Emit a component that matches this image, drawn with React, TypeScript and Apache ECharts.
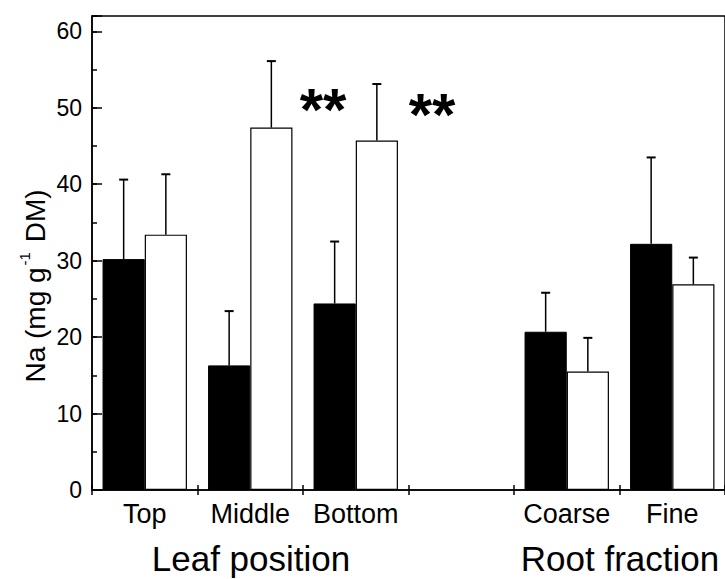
import React, { useEffect, useRef } from "react";
import * as echarts from "echarts";

const categories = ["Top", "Middle", "Bottom", "", "Coarse", "Fine"];
const blackMeans: (number | null)[] = [30.2, 16.3, 24.4, null, 20.7, 32.2];
const blackErrors: (number | null)[] = [10.4, 7.1, 8.1, null, 5.1, 11.3];
const whiteMeans: (number | null)[] = [33.4, 47.4, 45.7, null, 15.5, 26.9];
const whiteErrors: (number | null)[] = [7.9, 8.7, 7.4, null, 4.4, 3.5];
const yMin = 0;
const yMax = 62;
const yInterval = 10;
const groupTitles = ["Leaf position", "Root fraction"];
const significanceMarks = ["**", "**"];

const FONT = "Liberation Sans, Arial, Helvetica, sans-serif";

function errorData(means: (number | null)[], errs: (number | null)[]) {
  const out: number[][] = [];
  means.forEach((m, i) => {
    const e = errs[i];
    if (m != null && e != null) out.push([i, m, m + e]);
  });
  return out;
}

function makeErrorRenderer(side: number) {
  return (params: any, api: any) => {
    const idx = api.value(0);
    const base = api.coord([idx, api.value(1)]);
    const top = api.coord([idx, api.value(2)]);
    const band = api.size([1, 0])[0];
    const x = base[0] + side * band * 0.2;
    const cap = 4.5;
    return {
      type: "group",
      children: [
        {
          type: "line",
          shape: { x1: x, y1: base[1], x2: x, y2: top[1] },
          style: { stroke: "#000", lineWidth: 1.5 },
        },
        {
          type: "line",
          shape: { x1: x - cap, y1: top[1], x2: x + cap, y2: top[1] },
          style: { stroke: "#000", lineWidth: 2 },
        },
      ],
    };
  };
}

export default function App() {
  const ref = useRef<HTMLDivElement>(null);

  useEffect(() => {
    if (!ref.current) return;
    const chart = echarts.init(ref.current, undefined, { renderer: "svg" });
    const option: any = {
      animation: false,
      backgroundColor: "#fff",
      textStyle: { fontFamily: FONT },
      grid: {
        left: 92,
        right: -6,
        top: 16,
        bottom: 89,
        show: true,
        borderColor: "#000",
        borderWidth: 1.5,
        containLabel: false,
      },
      xAxis: [
        {
          type: "category",
          data: categories,
          position: "bottom",
          axisLine: { show: true, lineStyle: { color: "#000", width: 1.5 } },
          axisTick: { show: true, inside: true, length: 5, lineStyle: { color: "#000", width: 1.5 } },
          axisLabel: { color: "#000", fontSize: 27, fontFamily: FONT, margin: 10, interval: 0 },
          splitLine: { show: false },
        },
        {
          type: "category",
          data: categories,
          position: "bottom",
          axisLine: { show: false },
          axisTick: { show: true, inside: false, length: 5, lineStyle: { color: "#000", width: 1.5 } },
          axisLabel: { show: false },
          splitLine: { show: false },
        },
      ],
      yAxis: [
        {
          type: "value",
          min: yMin,
          max: yMax,
          interval: yInterval,
          position: "left",
          axisLine: { show: true, lineStyle: { color: "#000", width: 1.5 } },
          axisTick: { show: true, inside: true, length: 10, lineStyle: { color: "#000", width: 1.5 } },
          axisLabel: {
            color: "#000",
            fontSize: 23,
            fontFamily: FONT,
            margin: 10,
            formatter: (v: number) => (v % yInterval === 0 ? String(v) : ""),
          },
          splitLine: { show: false },
        },
        {
          type: "value",
          min: yMin,
          max: yMax,
          interval: yInterval / 2,
          position: "left",
          axisLine: { show: false },
          axisTick: { show: true, inside: true, length: 5, lineStyle: { color: "#000", width: 1.5 } },
          axisLabel: { show: false },
          splitLine: { show: false },
        },
      ],
      series: [
        {
          type: "bar",
          data: blackMeans,
          barGap: "0%",
          barCategoryGap: "20%",
          itemStyle: { color: "#000", borderColor: "#000", borderWidth: 1 },
          z: 2,
        },
        {
          type: "bar",
          data: whiteMeans,
          barGap: "0%",
          barCategoryGap: "20%",
          itemStyle: { color: "#fff", borderColor: "#000", borderWidth: 1.2 },
          z: 2,
        },
        {
          type: "custom",
          data: errorData(blackMeans, blackErrors),
          renderItem: makeErrorRenderer(-1),
          encode: { x: 0, y: [1, 2] },
          z: 3,
        },
        {
          type: "custom",
          data: errorData(whiteMeans, whiteErrors),
          renderItem: makeErrorRenderer(1),
          encode: { x: 0, y: [1, 2] },
          z: 3,
        },
      ],
      graphic: [
        {
          type: "text",
          x: 33,
          y: 286,
          rotation: Math.PI / 2,
          style: {
            text: "{a|Na (mg g}{s|-1}{a| DM)}",
            align: "center",
            verticalAlign: "middle",
            fill: "#000",
            rich: {
              a: { fontSize: 28, fontFamily: FONT, fill: "#000", lineHeight: 32, verticalAlign: "bottom" },
              s: { fontSize: 15, fontFamily: FONT, fill: "#000", lineHeight: 32, verticalAlign: "top", padding: [0, 2, 14, 2] },
            },
          },
        },
        {
          type: "text",
          x: 251,
          y: 558,
          style: { text: groupTitles[0], fontSize: 35, fontFamily: FONT, fill: "#000", align: "center", verticalAlign: "middle" },
        },
        {
          type: "text",
          x: 620,
          y: 558,
          style: { text: groupTitles[1], fontSize: 35, fontFamily: FONT, fill: "#000", align: "center", verticalAlign: "middle" },
        },
        {
          type: "text",
          x: 323,
          y: 109,
          style: { text: significanceMarks[0], fontSize: 60, fontWeight: "bold", fontFamily: FONT, fill: "#000", align: "center", verticalAlign: "middle" },
        },
        {
          type: "text",
          x: 432,
          y: 114,
          style: { text: significanceMarks[1], fontSize: 60, fontWeight: "bold", fontFamily: FONT, fill: "#000", align: "center", verticalAlign: "middle" },
        },
      ],
    };
    chart.setOption(option);
    return () => chart.dispose();
  }, []);

  return (
    <div
      ref={ref}
      style={{ position: "fixed", left: 0, top: 0, width: 725, height: 579, background: "#fff" }}
    />
  );
}
